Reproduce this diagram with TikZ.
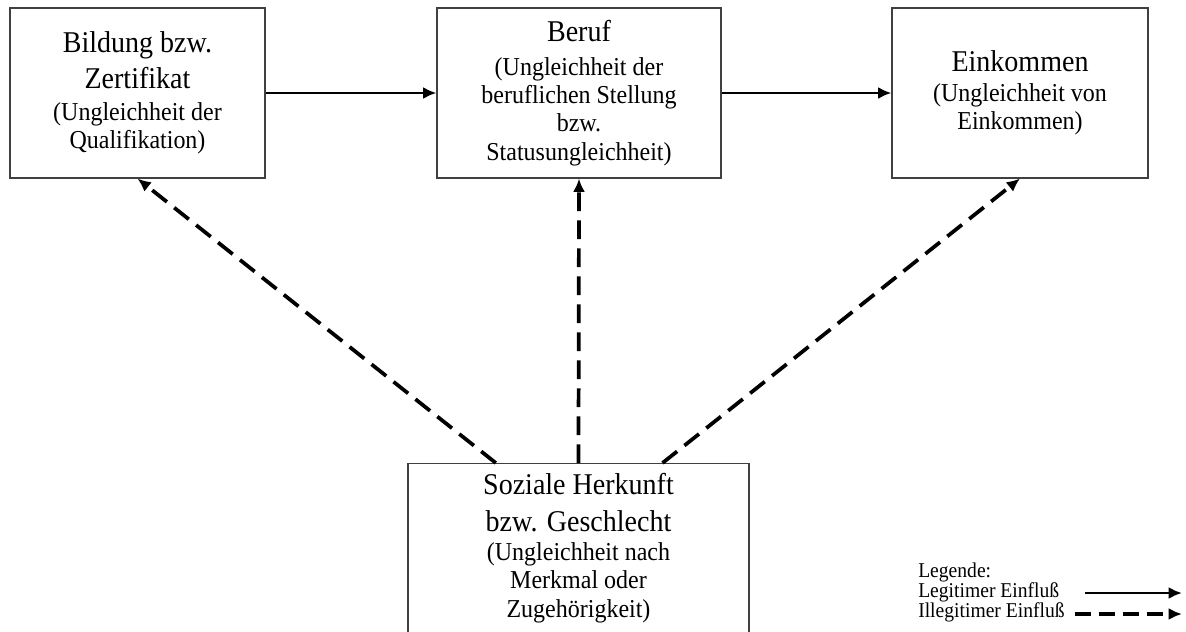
\documentclass[tikz,border=0pt]{standalone}
\usepackage{fontspec}
\setmainfont[FakeStretch=0.93]{Liberation Serif}
\usepackage{tikz}
\usetikzlibrary{arrows.meta,positioning,calc}

\newcommand{\headf}{\fontsize{22.6}{25}\selectfont}
\newcommand{\subf}{\fontsize{19.35}{21.2}\selectfont}

\begin{document}
\begin{tikzpicture}[
  x=0.75pt, y=-0.75pt,
  factor/.style = {draw=black!75, line width=0.8pt, minimum height=127.5pt,
                   align=center, font=\subf, inner sep=2pt},
  origin/.style = {factor, minimum height=0pt, inner sep=7.5pt, text depth=60pt},
  legit/.style  = {-{Latex[length=10pt,width=9pt]}, line width=2pt},
  illegit/.style = {-{Latex[length=10pt,width=9pt]}, line width=2.8pt,
                   dash pattern=on 14pt off 7pt},
  legtext/.style = {font=\fontsize{15.8}{15}\selectfont, inner sep=0pt, anchor=base west}
]
  \useasboundingbox (0,0) rectangle (1186,632);

  \node[factor, minimum width=191.25pt] (bild) at (137.5,93)
    {\headf Bildung bzw.\\[6pt]\headf Zertifikat\\[2.5pt](Ungleichheit der\\Qualifikation)};
  \node[factor, minimum width=213pt] (beruf) at (579,93)
    {\headf Beruf\\[4pt](Ungleichheit der\\beruflichen Stellung\\bzw.\\Statusungleichheit)};
  \node[factor, minimum width=192pt] (eink) at (1020,93)
    {\headf Einkommen\\[1.5pt](Ungleichheit von\\Einkommen)};
  \node[origin, minimum width=255.75pt, anchor=north] (herk) at (578.5,463)
    {\headf Soziale Herkunft\\[6.5pt]\headf bzw. Geschlecht\\[0.5pt](Ungleichheit nach\\Merkmal oder\\Zugehörigkeit)};

  \draw[legit] (bild) -- (beruf);
  \draw[legit] (beruf) -- (eink);

  \foreach \x/\t in {-62/bild,0/beruf,63/eink}
    \draw[illegit] ([xshift=\x pt]herk.north) -- (\t.south);

  % Legende
  \node[legtext] (leg0) at (918,577) {Legende:};
  \node[legtext] (leg1) at (918,597) {Legitimer Einfluß};
  \node[legtext] (leg2) at (918,617) {Illegitimer Einfluß};
  \coordinate (s1) at (1085,593);
  \coordinate (e1) at (1182,593);
  \coordinate (s2) at (1075,614);
  \coordinate (e2) at (1182,614);
  \draw[legit] (s1) -- (e1);
  \draw[illegit, dash pattern=on 12pt off 6pt] (s2) -- (e2);
\end{tikzpicture}
\end{document}
